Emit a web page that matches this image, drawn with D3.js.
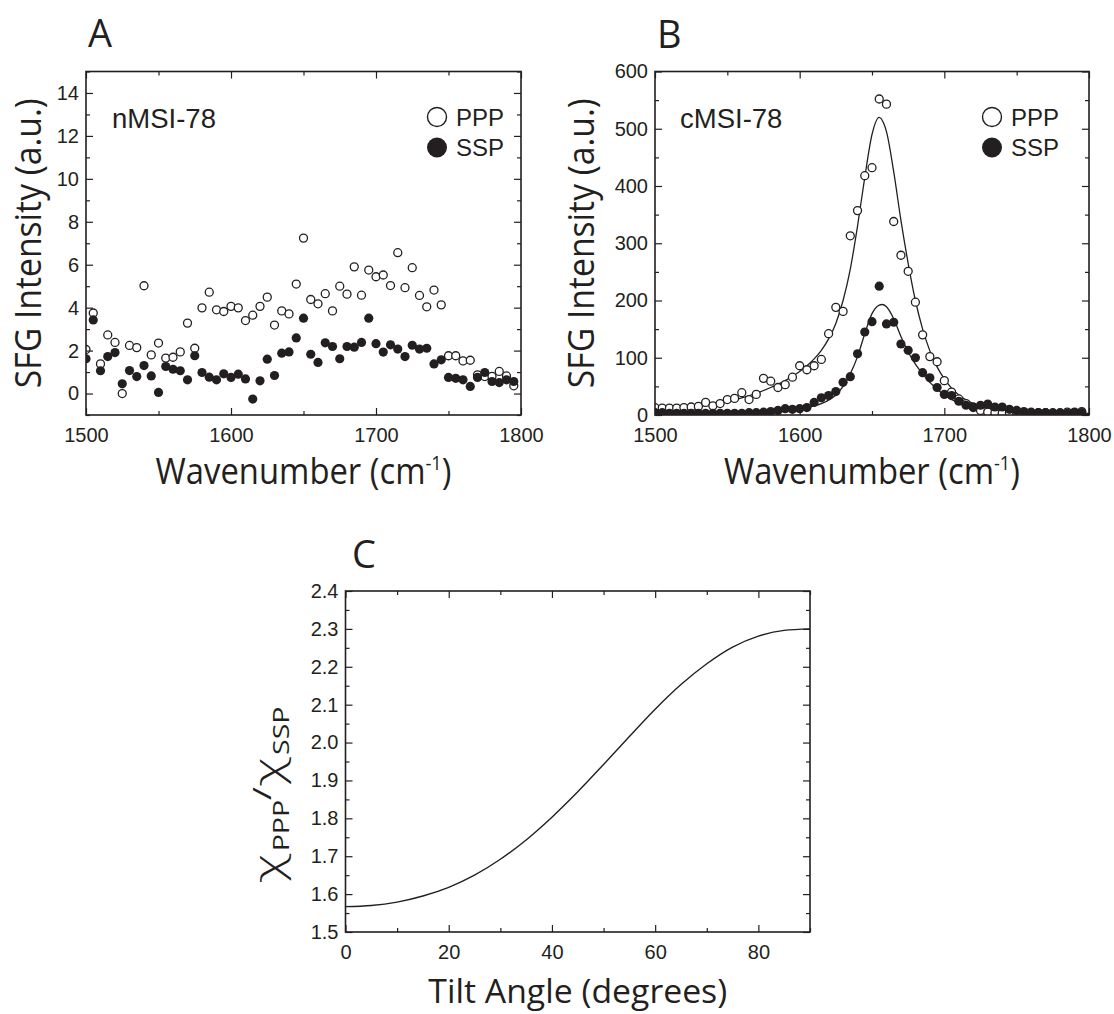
<!DOCTYPE html>
<html><head><meta charset="utf-8">
<script src="https://cdn.jsdelivr.net/npm/d3@7/dist/d3.min.js"></script>
<style>body{margin:0;background:#fff}</style>
</head><body>
<svg id="c" width="1114" height="1014"></svg>
<script>
// ---------------- DATA ----------------
const wavenumbers = [
  1500,1505,1510,1515,1520,1525,1530,1535,1540,1545,
  1550,1555,1560,1565,1570,1575,1580,1585,1590,1595,
  1600,1605,1610,1615,1620,1625,1630,1635,1640,1645,
  1650,1655,1660,1665,1670,1675,1680,1685,1690,1695,
  1700,1705,1710,1715,1720,1725,1730,1735,1740,1745,
  1750,1755,1760,1765,1770,1775,1780,1785,1790,1795];

// Panel A: nMSI-78
const pppA = [
  2.05,3.75,1.38,2.73,2.38,0.00,2.24,2.14,5.02,1.80,
  2.35,1.65,1.69,1.94,3.28,2.11,3.99,4.72,3.90,3.82,
  4.06,3.99,3.40,3.65,4.06,4.49,3.19,3.85,3.71,5.10,
  7.24,4.38,4.18,4.65,3.85,5.00,4.63,5.90,4.58,5.75,
  5.44,5.52,5.03,6.56,4.93,5.86,4.57,4.04,4.82,4.13,
  1.76,1.76,1.52,1.55,0.87,0.79,0.80,1.03,0.82,0.36];
const sspA = [
  1.62,3.43,1.06,1.72,1.91,0.45,1.07,0.79,1.30,0.82,
  0.05,1.26,1.13,1.06,0.64,1.76,0.98,0.76,0.64,0.92,
  0.75,0.90,0.68,-0.26,0.59,1.60,0.84,1.88,1.94,2.59,
  3.51,1.83,1.45,2.36,2.19,1.62,2.19,2.16,2.38,3.51,
  2.32,1.93,2.27,2.07,1.72,2.25,2.07,2.11,1.38,1.57,
  0.75,0.71,0.64,0.33,0.75,0.98,0.56,0.51,0.64,0.56];

// Panel B: cMSI-78
const pppB = [
  13,12,12,12,13,14,15,22,16,20,
  27,29,39,27,36,64,59,48,53,66,
  86,79,86,97,142,188,181,313,357,418,
  432,552,543,338,279,251,197,140,102,93,
  60,40,28,20,14,8,5,4,3,4,
  4,4,4,4,4,4,4,5,5,6];
const sspB = [
  4,4,3,3,3,3,3,3,3,3,
  3,3,3,4,4,5,6,8,11,10,
  11,13,22,30,34,41,57,67,107,145,
  163,225,159,162,124,113,100,74,65,48,
  36,34,24,17,13,17,19,14,14,10,
  8,6,5,4,4,3,3,3,4,4];

// fitted curves
const fitWavePPP = [1500,1510,1520,1530,1540,1550,1560,1570,1580,1590,1600,1610,1615,1620,1625,1630,1635,1640,1645,1650,1655,1658,1660,1665,1670,1675,1680,1685,1690,1695,1700,1705,1710,1720,1730,1740,1750,1770,1800];
const fitPPP     = [10,11,13,15,19,24,30,38,48,60,76,98,113,133,160,200,255,330,415,490,520,510,495,425,340,265,200,150,112,84,63,47,35,20,12,8,6,4,3];
const fitWaveSSP = [1500,1540,1560,1580,1590,1600,1610,1615,1620,1625,1630,1635,1640,1645,1650,1655,1657,1660,1665,1670,1675,1680,1685,1690,1695,1700,1705,1710,1720,1730,1740,1760,1780,1800];
const fitSSP     = [2,2,3,5,7,10,16,20,26,35,50,72,102,142,177,192,193,189,168,137,110,89,72,57,45,35,27,21,13,9,6,3,2,1];

// Panel C
const tiltAngle = [0,5,10,15,20,25,30,35,40,45,50,55,60,65,70,75,80,85,90];
const ratioC    = [1.567,1.570,1.579,1.595,1.618,1.650,1.692,1.743,1.803,1.870,1.942,2.016,2.088,2.153,2.208,2.252,2.281,2.296,2.300];

// tick values
const ticksWaveMajor = [1500,1600,1700,1800];
const ticksWaveMinor = [1550,1650,1750];
const ticksAYMajor = [0,2,4,6,8,10,12,14];
const ticksAYMinor = [-1,1,3,5,7,9,11,13,15];
const ticksBYMajor = [0,100,200,300,400,500,600];
const ticksBYMinor = [50,150,250,350,450,550];
const ticksCXMajor = [0,20,40,60,80];
const ticksCXMinor = [10,30,50,70,90];
const ticksCYMajor = [1.5,1.6,1.7,1.8,1.9,2.0,2.1,2.2,2.3,2.4];
const ticksCYMinor = [1.55,1.65,1.75,1.85,1.95,2.05,2.15,2.25,2.35];

// ---------------- DRAW ----------------
const INK = "#231f20";
const TICKFONT = "'Liberation Sans', Arial, Helvetica, sans-serif";
const TITLEFONT = "'Open Sans', 'Noto Sans', sans-serif";
const svg = d3.select("#c");
const defs = svg.append("defs");

function drawAxes(g, x, y, b, cfg) {
  const axes = [
    {ax: d3.axisBottom(x), t: `translate(0,${b.y1})`, maj: cfg.xMajor, lab: true, fmt: cfg.xFmt, vert: false},
    {ax: d3.axisTop(x),    t: `translate(0,${b.y0})`, maj: cfg.xMajor, lab: false, vert: false},
    {ax: d3.axisLeft(y),   t: `translate(${b.x0},0)`, maj: cfg.yMajor, lab: true, fmt: cfg.yFmt, vert: true},
    {ax: d3.axisRight(y),  t: `translate(${b.x1},0)`, maj: cfg.yMajor, lab: false, vert: true}
  ];
  axes.forEach(a => {
    const gm = g.append("g").attr("transform", a.t)
      .call(a.ax.tickValues(a.maj).tickSize(-7)
        .tickPadding(a.vert ? 7 : 13)
        .tickFormat(a.lab ? a.fmt : () => ""));
    gm.select(".domain").remove();
    gm.selectAll("line").attr("stroke", INK).attr("stroke-width", 1.2);
    gm.selectAll("text").attr("fill", INK).style("font-family", TICKFONT).style("font-size", "20px");
  });
  const minors = [
    [d3.axisBottom(x), `translate(0,${b.y1})`, cfg.xMinor],
    [d3.axisTop(x), `translate(0,${b.y0})`, cfg.xMinor],
    [d3.axisLeft(y), `translate(${b.x0},0)`, cfg.yMinor],
    [d3.axisRight(y), `translate(${b.x1},0)`, cfg.yMinor]
  ];
  minors.forEach(m => {
    const gm = g.append("g").attr("transform", m[1])
      .call(m[0].tickValues(m[2]).tickSize(-4).tickFormat(() => ""));
    gm.select(".domain").remove();
    gm.selectAll("line").attr("stroke", INK).attr("stroke-width", 1.2);
  });
  g.append("rect").attr("x", b.x0).attr("y", b.y0)
    .attr("width", b.x1 - b.x0).attr("height", b.y1 - b.y0)
    .attr("fill", "none").attr("stroke", INK).attr("stroke-width", 1.6);
}

// text with horizontal fit to target width
function title(cx, cy, rot, size, parts, targetW) {
  const g = svg.append("g");
  const t = g.append("text").attr("text-anchor", "middle")
    .style("font-family", TITLEFONT).style("font-size", size + "px").attr("fill", INK);
  parts.forEach(p => {
    const s = t.append("tspan").text(p.t);
    if (p.size) s.style("font-size", p.size + "px");
    if (p.dy) s.attr("dy", p.dy);
    if (p.font) s.style("font-family", p.font);
    if (p.weight) s.style("font-weight", p.weight);
  });
  const w = t.node().getBBox().width;
  const sx = targetW ? targetW / w : 1;
  g.attr("transform", `translate(${cx},${cy}) rotate(${rot}) scale(${sx},1)`);
  return g;
}

function letter(x, y, s) {
  svg.append("text").attr("x", x).attr("y", y).text(s)
    .style("font-family", TITLEFONT).style("font-size", "38px").attr("fill", INK);
}

function spectrumPanel(p) {
  const b = p.box;
  const x = d3.scaleLinear().domain([1500, 1800]).range([b.x0, b.x1]);
  const y = d3.scaleLinear().domain(p.yDomain).range([b.y1, b.y0]);
  const g = svg.append("g");
  defs.append("clipPath").attr("id", "clip" + p.id).append("rect")
    .attr("x", b.x0).attr("y", b.y0).attr("width", b.x1 - b.x0).attr("height", b.y1 - b.y0);
  const pg = g.append("g").attr("clip-path", `url(#clip${p.id})`);
  if (p.fits) {
    const line = d3.line().x(d => x(d[0])).y(d => y(d[1])).curve(d3.curveMonotoneX);
    p.fits.forEach(f => {
      pg.append("path").datum(d3.zip(f[0], f[1])).attr("d", line)
        .attr("fill", "none").attr("stroke", INK).attr("stroke-width", 1.3);
    });
  }
  pg.selectAll(".ppp").data(d3.zip(wavenumbers, p.ppp)).join("circle")
    .attr("cx", d => x(d[0])).attr("cy", d => y(d[1])).attr("r", 4.0)
    .attr("fill", "#fff").attr("stroke", INK).attr("stroke-width", 1.3);
  pg.selectAll(".ssp").data(d3.zip(wavenumbers, p.ssp)).join("circle")
    .attr("cx", d => x(d[0])).attr("cy", d => y(d[1])).attr("r", 4.6)
    .attr("fill", INK);
  drawAxes(g, x, y, b, {xMajor: ticksWaveMajor, xMinor: ticksWaveMinor, xFmt: d3.format("d"),
    yMajor: p.yMajor, yMinor: p.yMinor, yFmt: d3.format("d")});
  // sample label
  g.append("text").attr("x", b.x0 + p.labDx).attr("y", 128).text(p.label)
    .style("font-family", TICKFONT).style("font-size", "27.5px").attr("fill", INK);
  // legend
  const lx = b.x1 - p.legDx;
  g.append("circle").attr("cx", lx).attr("cy", 117).attr("r", 9.5)
    .attr("fill", "#fff").attr("stroke", INK).attr("stroke-width", 1.4);
  g.append("circle").attr("cx", lx).attr("cy", 147.5).attr("r", 10).attr("fill", INK);
  g.append("text").attr("x", lx + 19).attr("y", 126).text("PPP")
    .style("font-family", TICKFONT).style("font-size", "24px").attr("fill", INK);
  g.append("text").attr("x", lx + 19).attr("y", 156).text("SSP")
    .style("font-family", TICKFONT).style("font-size", "24px").attr("fill", INK);
  // titles
  const cx = (b.x0 + b.x1) / 2, cy = (b.y0 + b.y1) / 2;
  title(cx, 484, 0, 36, [{t: "Wavenumber (cm"}, {t: "-1", size: 20, dy: -14}, {t: ")", dy: 14}], 296);
  title(p.yTitleX, cy, -90, 36, [{t: "SFG Intensity (a.u.)"}], 290);
}

const boxA = {x0: 86, x1: 521, y0: 71.5, y1: 415};
const boxB = {x0: 655, x1: 1089, y0: 71.5, y1: 415};
const boxC = {x0: 345.5, x1: 810, y0: 591, y1: 932};

spectrumPanel({id: "A", box: boxA, yDomain: [-1, 15], yMajor: ticksAYMajor, yMinor: ticksAYMinor,
  ppp: pppA, ssp: sspA, label: "nMSI-78", labDx: 26, legDx: 84, yTitleX: 41});
spectrumPanel({id: "B", box: boxB, yDomain: [0, 600], yMajor: ticksBYMajor, yMinor: ticksBYMinor,
  ppp: pppB, ssp: sspB, label: "cMSI-78", labDx: 25, legDx: 97, yTitleX: 594,
  fits: [[fitWavePPP, fitPPP], [fitWaveSSP, fitSSP]]});

// Panel C
(function () {
  const b = boxC;
  const x = d3.scaleLinear().domain([0, 90]).range([b.x0, b.x1]);
  const y = d3.scaleLinear().domain([1.5, 2.4]).range([b.y1, b.y0]);
  const g = svg.append("g");
  const line = d3.line().x(d => x(d[0])).y(d => y(d[1])).curve(d3.curveMonotoneX);
  g.append("path").datum(d3.zip(tiltAngle, ratioC)).attr("d", line)
    .attr("fill", "none").attr("stroke", INK).attr("stroke-width", 1.4);
  drawAxes(g, x, y, b, {xMajor: ticksCXMajor, xMinor: ticksCXMinor, xFmt: d3.format("d"),
    yMajor: ticksCYMajor, yMinor: ticksCYMinor, yFmt: d3.format(".1f")});
  title((b.x0 + b.x1) / 2, 1003, 0, 33, [{t: "Tilt Angle (degrees)"}], 299);
  const CHI = "'DejaVu Sans', sans-serif";
  title(282, 795, -90, 40, [
    {t: "\u03c7", font: CHI, weight: 200}, {t: "PPP", size: 21, dy: 7},
    {t: "/", size: 26, dy: -18}, {t: "\u03c7", dy: 11, font: CHI, weight: 200}, {t: "SSP", size: 21, dy: 7}], 177);
})();

letter(88, 47, "A");
letter(657, 48, "B");
letter(352, 568, "C");
</script>
</body></html>
